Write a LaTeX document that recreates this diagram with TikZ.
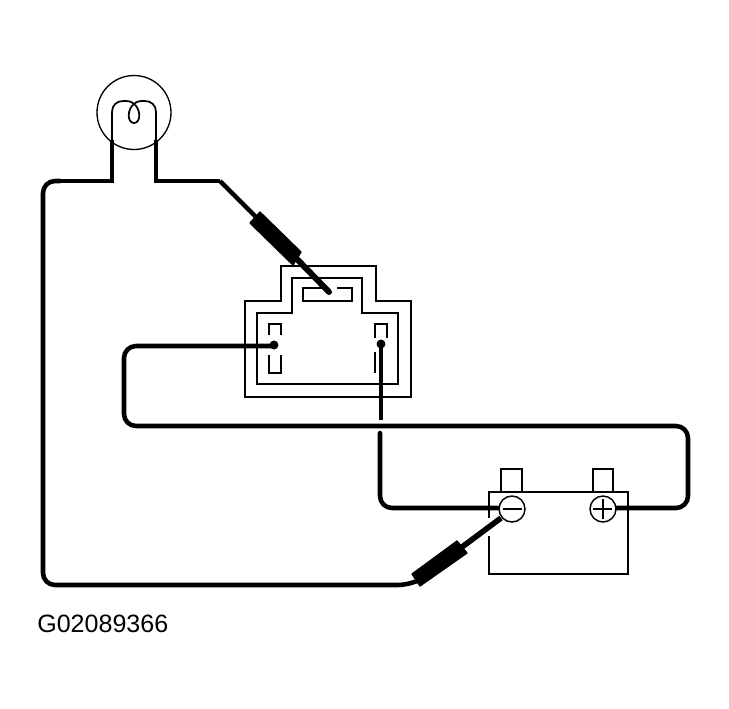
\documentclass[tikz,border=0pt]{standalone}
\usepackage{fontspec}
\setmainfont{Liberation Sans}
\tikzset{
  thin line/.style={line width=1.1pt,line join=miter,line cap=butt},
  wire/.style={line width=3.4pt,line join=round,line cap=round,rounded corners=9pt},
  lead/.style={line width=3.4pt,line join=miter},
  sleeve/.style={fill=black,draw=black,line width=1pt,line join=round},
  mid line/.style={line width=1.6pt}
}
\begin{document}
\begin{tikzpicture}[x=.75pt,y=-.75pt]
\useasboundingbox (0,0) rectangle (729,708);
% lamp
\node[circle,draw,line width=1pt,minimum size=55.5pt,inner sep=0pt] (bulb) at (134,112.5) {};
\draw[line width=1.3pt] (112,140) -- (112,112) .. controls (112,105) and (117,101) .. (123,101) .. controls (128,101) and (131,101) .. (134,104) .. controls (127,109) and (127,123) .. (134,123) .. controls (141,123) and (141,109) .. (134,104) .. controls (137,101) and (140,101) .. (145,101) .. controls (151,101) and (156,105) .. (156,112) -- (156,140);
% connector body
\draw[thin line] (245,301) -- (281,301) -- (281,266) -- (376,266) -- (376,301) -- (411,301) -- (411,397) -- (245,397) -- cycle;
\draw[thin line] (257,313) -- (292,313) -- (292,278) -- (362,278) -- (362,313) -- (398,313) -- (398,384) -- (257,384) -- cycle;
\draw[thin line] (327,288) -- (303,288) -- (303,301) -- (352,301) -- (352,288) -- (337,288);
\draw[thin line] (269,335) -- (269,324) -- (281,324) -- (281,335);
\draw[thin line] (269,355) -- (269,373) -- (281,373) -- (281,355);
\draw[thin line] (375,338) -- (375,324) -- (387,324) -- (387,338);
\draw[thin line] (375,352) -- (375,373);
% battery
\draw[thin line] (501,492) -- (501,469) -- (522,469) -- (522,492);
\draw[thin line] (593,492) -- (593,469) -- (613,469) -- (613,492);
\draw[thin line] (489,518) -- (489,492) -- (628,492) -- (628,574) -- (489,574) -- (489,536);
\coordinate (negwire) at (498,508);
\coordinate (poswire) at (616,508);
% wires
\coordinate (lampL) at (112,140);
\coordinate (lampR) at (156,140);
\draw[lead] (lampL) -- (112,181) -- (60,181);
\draw[wire] (60,181) -- (43,181) -- (43,585) -- (410,585) -- (425,577);
\draw[lead] (lampR) -- (156,181) -- (220,181);
\draw[line width=3.4pt,line join=round] (220,181) -- (256,217);
\draw[sleeve] (260,212) -- (250,223) -- (293,265) -- (301,252) -- cycle;
\draw[line width=4.5pt,line cap=round] (294,256) -- (329,292);
\draw[wire] (274,346) -- (124,346) -- (124,426) -- (688,426) -- (688,508) -- (poswire);
\fill (274,345) circle[radius=4.5];
\draw[line width=3.4pt] (381,344) -- (381,420);
\fill (381,344) circle[radius=4.5];
\draw[wire] (380,433) -- (380,508) -- (negwire);
% terminals
\node[circle,draw,fill=white,line width=1.1pt,minimum size=19.5pt,inner sep=0pt] (neg) at (512,509) {};
\node[circle,draw,fill=white,line width=1.1pt,minimum size=19.5pt,inner sep=0pt] (pos) at (603,509) {};
\draw[mid line] (503,509) -- (522,509);
\draw[mid line] (593,509) -- (612,509) (603,499) -- (603,519);
% negative cable
\draw[line width=4.2pt] (neg) ++(-11,9) -- (458,550);
\draw[sleeve] (457,541) -- (467,553) -- (420,586) -- (412,574) -- cycle;
% label
\node[anchor=west,inner sep=0pt,font=\fontsize{18.8}{20}\selectfont] (code) at (37,624) {G02089366};
\end{tikzpicture}
\end{document}
